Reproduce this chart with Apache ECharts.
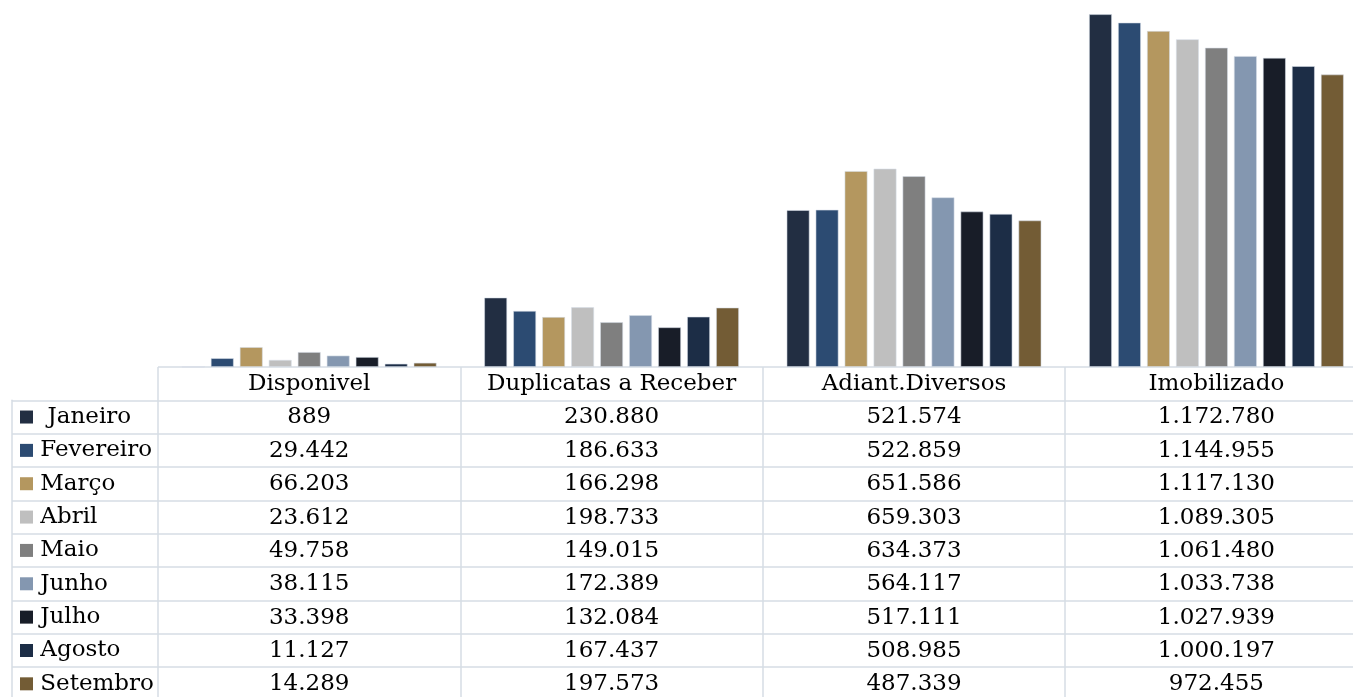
<!DOCTYPE html>
<html>
<head>
<meta charset="utf-8">
<style>
html,body{margin:0;padding:0;background:#fff;}
#c{width:1353px;height:697px;}
</style>
<script src="https://cdn.jsdelivr.net/npm/echarts@6/dist/echarts.min.js"></script>
</head>
<body>
<div id="c"></div>
<script>
var categories = ['Disponivel', 'Duplicatas a Receber', 'Adiant.Diversos', 'Imobilizado'];
var months = ['Janeiro', 'Fevereiro', 'Março', 'Abril', 'Maio', 'Junho', 'Julho', 'Agosto', 'Setembro'];
var colors = ['#222e42', '#2c4b72', '#b4975f', '#bfbfbf', '#7f7f7f', '#8497b0', '#181d28', '#1c2d46', '#735c35'];

var disponivel  = [889, 29442, 66203, 23612, 49758, 38115, 33398, 11127, 14289];
var duplicatas  = [230880, 186633, 166298, 198733, 149015, 172389, 132084, 167437, 197573];
var adiant      = [521574, 522859, 651586, 659303, 634373, 564117, 517111, 508985, 487339];
var imobilizado = [1172780, 1144955, 1117130, 1089305, 1061480, 1033738, 1027939, 1000197, 972455];

var columns = [disponivel, duplicatas, adiant, imobilizado];

function fmt(n) { return String(n).replace(/\B(?=(\d{3})+(?!\d))/g, '.'); }

var FONT = 'DejaVu Serif';
var FS = 23;
var LINE = '#d6dce5';

var ROW = 33.35;
var TABLE_TOP = 367;
var GRID_W = 1209.6;

var series = months.map(function (m, i) {
  return {
    name: m,
    type: 'bar',
    xAxisIndex: 0,
    yAxisIndex: 0,
    barWidth: 23,
    barGap: '26%',
    itemStyle: { color: colors[i], borderColor: 'rgba(214,220,229,0.7)', borderWidth: 0.8 },
    data: columns.map(function (col) { return col[i]; })
  };
});

var cells = [];
categories.forEach(function (c, ci) {
  cells.push({ pos: [ci, 0], text: c });
  months.forEach(function (m, mi) {
    cells.push({ pos: [ci, mi + 1], text: fmt(columns[ci][mi]) });
  });
});

series.push({
  type: 'custom',
  xAxisIndex: 1,
  yAxisIndex: 1,
  silent: true,
  clip: false,
  data: cells.map(function (c) { return c.pos; }),
  renderItem: function (params, api) {
    var p = api.coord([api.value(0), api.value(1)]);
    return {
      type: 'text',
      x: p[0],
      y: p[1] + 0.5,
      style: {
        text: cells[params.dataIndex].text,
        fill: '#000',
        font: FS + 'px "' + FONT + '"',
        align: 'center',
        verticalAlign: 'middle'
      }
    };
  }
});

var rich = { t: { fontFamily: FONT, fontSize: FS, color: '#000' } };
colors.forEach(function (c, i) {
  rich['s' + i] = { backgroundColor: c, width: 13, height: 13 };
});

var option = {
  animation: false,
  backgroundColor: '#fff',
  grid: [
    { left: 158, width: GRID_W, top: 6, height: 361, containLabel: false, outerBoundsMode: 'none' },
    { left: 158, width: GRID_W, top: TABLE_TOP, height: ROW * 10, containLabel: false, outerBoundsMode: 'none' },
    { left: 12, width: 146, top: TABLE_TOP + ROW, height: ROW * 9, containLabel: false, outerBoundsMode: 'none' }
  ],
  xAxis: [
    { gridIndex: 0, type: 'category', data: categories, axisLine: { show: false }, axisTick: { show: false }, axisLabel: { show: false } },
    { gridIndex: 1, type: 'category', data: categories, axisLine: { show: false }, axisTick: { show: false }, axisLabel: { show: false },
      splitLine: { show: true, lineStyle: { color: LINE, width: 1.5 } } },
    { gridIndex: 2, type: 'value', min: 0, max: 1, show: false }
  ],
  yAxis: [
    { gridIndex: 0, type: 'value', min: 0, max: 1200000, show: false },
    { gridIndex: 1, type: 'category', inverse: true, data: [''].concat(months), axisLine: { show: false }, axisTick: { show: false }, axisLabel: { show: false },
      splitLine: { show: true, lineStyle: { color: LINE, width: 1.5 } } },
    { gridIndex: 2, type: 'category', inverse: true, data: months, position: 'left',
      axisLine: { show: true, onZero: false, lineStyle: { color: LINE, width: 1.5 } },
      axisTick: { show: false },
      splitLine: { show: true, lineStyle: { color: LINE, width: 1.5 } },
      axisLabel: {
        inside: true,
        margin: 8,
        formatter: function (v) {
          var i = months.indexOf(v);
          return '{s' + i + '|}{t|' + (i === 0 ? '  ' : ' ') + v + '}';
        },
        rich: rich
      }
    }
  ],
  series: series
};

var chart = echarts.init(document.getElementById('c'), null, { renderer: 'canvas' });
chart.setOption(option);
</script>
</body>
</html>
